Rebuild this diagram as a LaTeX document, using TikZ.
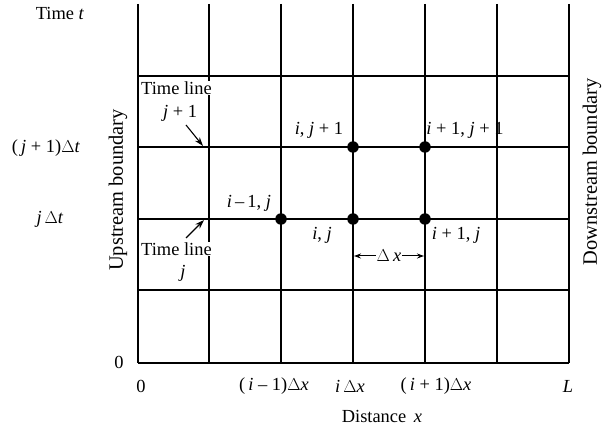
\documentclass[tikz,border=0pt]{standalone}
\usepackage{fontspec}
\setmainfont{Liberation Serif}
\usetikzlibrary{arrows.meta}
\begin{document}
\begin{tikzpicture}[x=1bp,y=-1bp,
  gridline/.style={line width=1.1bp},
  lbl/.style={font=\fontsize{18.5}{20}\selectfont, inner sep=1bp},
  rot/.style={font=\fontsize{20.5}{22}\selectfont, rotate=90, inner sep=0},
  gridpt/.style={circle, fill=black, inner sep=0, minimum size=11.5bp},
  ptr/.style={-{Stealth[length=9bp,width=6bp]}, line width=1.1bp},
  dxar/.style={-{Stealth[length=7bp,width=5bp]}, line width=1bp}]
\useasboundingbox (0,0) rectangle (607,436);
% grid
\foreach \x in {138,209,281,353,425,497,569}
  \draw[gridline] (\x,4) -- (\x,363);
\foreach \y in {76,147,219,290,363}
  \draw[gridline] (138,\y) -- (569,\y);
% points
\node[gridpt] (p1) at (281,219) {};
\node[gridpt] (p2) at (353,219) {};
\node[gridpt] (p3) at (425,219) {};
\node[gridpt] (p4) at (353,147) {};
\node[gridpt] (p5) at (425,147) {};
% axis labels
\node[lbl] (tt) at (60,13) {Time \textit{t}};
\node[lbl] (j1t) at (46,148) {(\,\textit{j} + 1)$\Delta$\textit{t}};
\node[lbl] (jt) at (50,219) {\textit{j}\,$\Delta$\textit{t}};
\node[lbl] (z1) at (119,362) {0};
\node[lbl] (z2) at (141,386) {0};
\node[lbl] (xim1) at (274,386) {(\,\textit{i} -- 1)$\Delta$\textit{x}};
\node[lbl] (xi) at (350,386) {\textit{i}\,$\Delta$\textit{x}};
\node[lbl] (xip1) at (436,386) {(\,\textit{i} + 1)$\Delta$\textit{x}};
\node[lbl] (xL) at (568,386) {\textit{L}};
\node[lbl] (dist) at (382,416) {Distance\, \textit{x}};
\node[rot] (up) at (118,190) {Upstream boundary};
\node[rot] (down) at (592,172) {Downstream boundary};
% time line labels
\node[lbl, fill=white, anchor=west] (tl1) at (140,88) {Time line};
\node[lbl] (tl1j) at (180,113) {\textit{j} + 1};
\node[lbl, fill=white, anchor=west] (tl2) at (140,249) {Time line};
\node[lbl] (tl2j) at (183,273) {\textit{j}};
\coordinate (a1) at (203,146);
\coordinate (a2) at (204,220);
\draw[ptr] (186,125) -- (a1);
\draw[ptr] (186,238) -- (a2);
% point labels
\node[lbl] (l1) at (249,203) {\textit{i}\,--\,1, \textit{j}};
\node[lbl] (l2) at (322,235) {\textit{i}, \textit{j}};
\node[lbl] (l3) at (456,235) {\textit{i} + 1, \textit{j}};
\node[lbl] (l4) at (319,130) {\textit{i}, \textit{j} + 1};
\node[lbl] (l5) at (465,130) {\textit{i} + 1, \textit{j} + 1};
% delta x
\node[lbl] (dx) at (389,256) {$\Delta$\,\textit{x}};
\coordinate (dxl) at (354,256);
\coordinate (dxr) at (424,256);
\draw[dxar] (dx.west) -- (dxl);
\draw[dxar] (dx.east) -- (dxr);
\end{tikzpicture}
\end{document}
